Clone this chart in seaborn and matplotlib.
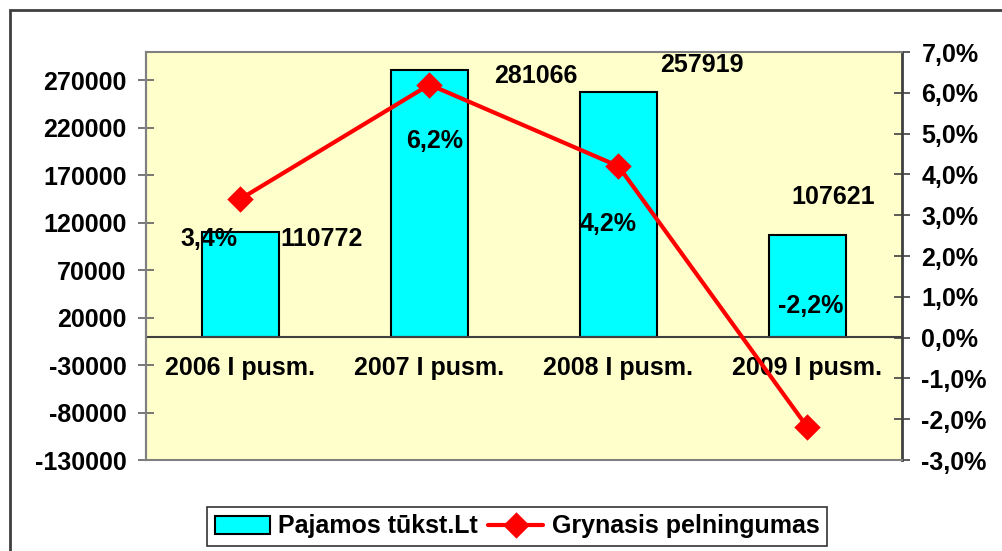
import numpy as np
import pandas as pd
import matplotlib
matplotlib.use('Agg')
import matplotlib.pyplot as plt
import seaborn as sns
from matplotlib.patches import Rectangle
from matplotlib.ticker import FixedLocator

# data
periods = ['2006 I pusm.', '2007 I pusm.', '2008 I pusm.', '2009 I pusm.']
income = [110772, 281066, 257919, 107621]
margin = [3.4, 6.2, 4.2, -2.2]
income_ticks = [-130000, -80000, -30000, 20000, 70000, 120000, 170000, 220000, 270000]
margin_ticks = [-3, -2, -1, 0, 1, 2, 3, 4, 5, 6, 7]

# label offsets (pixels) for the data labels, Excel put them all over the place
income_offsets = [(81, -7), (106, -6), (83, 27), (26, 38)]
margin_offsets = [(-32, -40), (5, -56), (-10, -58), (3, 121)]

sns.set_style('white')
plt.rcParams['font.family'] = ['Liberation Sans', 'DejaVu Sans']
plt.rcParams['font.weight'] = 'bold'
plt.rcParams['text.color'] = 'black'
plt.rcParams['xtick.labelcolor'] = 'black'
plt.rcParams['ytick.labelcolor'] = 'black'
FS = 18

df = pd.DataFrame({'period': periods, 'income': income, 'margin': margin})

fig = plt.figure(figsize=(10.03, 5.51), dpi=100)
ax = fig.add_axes([146/1003, 1 - 460/551, (902 - 146)/1003, (460 - 52)/551])
ax.set_facecolor('#FFFFCC')

sns.barplot(data=df, x='period', y='income', color='#00FFFF', width=0.41,
            edgecolor='black', linewidth=1.5, saturation=1, ax=ax)
for bar in ax.patches:
    bar.set_facecolor('#00FFFF')
ax.set_ylim(-130000, 300000)
ax.set_xlim(-0.5, 3.5)
ax.set_xlabel('')
ax.set_ylabel('')
ax.set_yticks(income_ticks)
ax.set_yticklabels([str(t) for t in income_ticks], fontsize=FS, fontweight='bold')

# category axis sits at zero, ticks between categories, labels at centres
ax.spines['bottom'].set_position(('data', 0))
ax.spines['bottom'].set_color('#404040')
ax.spines['bottom'].set_linewidth(1.5)
ax.spines['top'].set_visible(False)
ax.spines['right'].set_visible(False)
ax.spines['left'].set_color('#808080')
ax.spines['left'].set_linewidth(1.5)
ax.xaxis.set_major_locator(FixedLocator([0.5, 1.5, 2.5]))
ax.xaxis.set_minor_locator(FixedLocator([0, 1, 2, 3]))
ax.set_xticklabels([], minor=False)
ax.set_xticklabels(periods, minor=True, fontsize=FS, fontweight='bold')
ax.tick_params(axis='x', which='major', direction='inout', length=12, width=1, color='#404040')
ax.tick_params(axis='x', which='minor', length=0, pad=14)
ax.tick_params(axis='y', direction='inout', length=12, width=1.2, color='#606060', pad=8, left=True)

for i, (v, off) in enumerate(zip(income, income_offsets)):
    ax.annotate(str(v), xy=(i, v), xytext=off, textcoords='offset pixels',
                ha='center', va='center', fontsize=FS, fontweight='bold')

ax2 = ax.twinx()
sns.pointplot(data=df, x='period', y='margin', color='#FF0000', markers='D',
              errorbar=None, ax=ax2, markersize=11, linewidth=3)
ax2.set_xlim(-0.5, 3.5)
ax2.set_ylim(-3, 7)
ax2.set_yticks(margin_ticks)
ax2.set_yticklabels([f'{t:.1f}%'.replace('.', ',') for t in margin_ticks], fontsize=FS, fontweight='bold')
ax2.set_ylabel('')
ax2.set_xlabel('')
ax2.tick_params(axis='y', direction='inout', length=12, width=1.2, color='#404040', pad=8, right=True)
ax2.tick_params(axis='x', bottom=False, labelbottom=False)
for side in ['top', 'bottom', 'left']:
    ax2.spines[side].set_color('#808080')
    ax2.spines[side].set_linewidth(1.5)
ax2.spines['right'].set_color('#404040')
ax2.spines['right'].set_linewidth(2)

for i, (v, off) in enumerate(zip(margin, margin_offsets)):
    ax2.annotate(f'{v:.1f}%'.replace('.', ','), xy=(i, v), xytext=off, textcoords='offset pixels',
                 ha='center', va='center', fontsize=FS, fontweight='bold')

# legend under the chart
handles = [ax.patches[0], ax2.lines[0]]
leg = fig.legend(handles, ['Pajamos tūkst.Lt', 'Grynasis pelningumas'],
                 loc='center', bbox_to_anchor=(517/1003, 1 - 526.5/551), ncol=2,
                 frameon=True, fancybox=False, edgecolor='black',
                 prop={'weight': 'bold', 'size': FS}, handlelength=2.2,
                 handletextpad=0.35, columnspacing=0.4, borderpad=0.3)
leg.get_frame().set_linewidth(1.2)

# outer chart frame, cut off at the right and bottom like the reference
fig.patches.append(Rectangle((10/1003, -0.05), 1.1, 1 - 10/551 + 0.05,
                             transform=fig.transFigure, fill=False,
                             edgecolor='#404040', linewidth=2))

fig.savefig('out.png', dpi=100)
